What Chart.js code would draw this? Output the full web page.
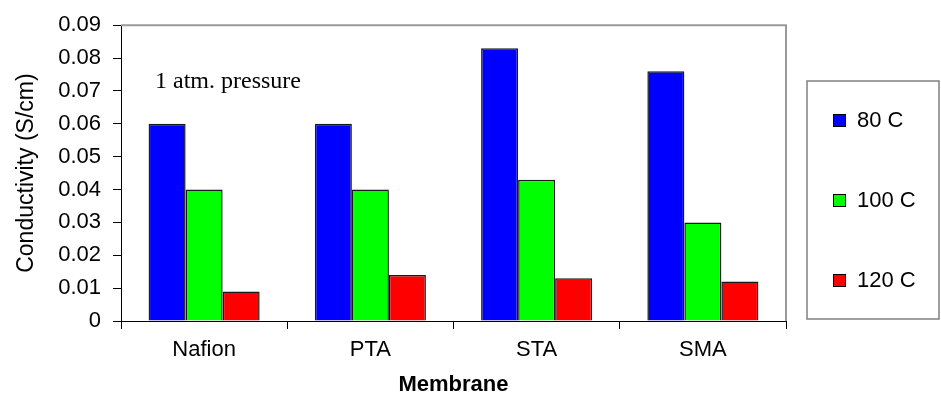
<!DOCTYPE html>
<html>
<head>
<meta charset="utf-8">
<script src="https://cdn.jsdelivr.net/npm/chart.js@4/dist/chart.umd.min.js"></script>
<style>
  html, body { margin: 0; padding: 0; background: #fff; }
  #wrap { width: 941px; height: 407px; }
</style>
</head>
<body>
<div id="wrap"><canvas id="c" width="941" height="407"></canvas></div>
<script>
// Proton conductivity of each membrane at three temperatures
const membranes = ['Nafion', 'PTA', 'STA', 'SMA'];
const temperatures = ['80 C', '100 C', '120 C'];
const cond80C = [0.060, 0.060, 0.083, 0.076];
const cond100C = [0.040, 0.040, 0.043, 0.030];
const cond120C = [0.009, 0.014, 0.013, 0.012];
const yTickValues = [0, 0.01, 0.02, 0.03, 0.04, 0.05, 0.06, 0.07, 0.08, 0.09];
const noteText = '1 atm. pressure';

const barColors = ['#0000FF', '#00FF00', '#FF0000'];
const sans = '"Liberation Sans", Arial, sans-serif';
const serif = '"Liberation Serif", "Times New Roman", serif';

// Grey frame along the top and right of the plot area
const plotFrame = {
  id: 'plotFrame',
  beforeDatasetsDraw(chart) {
    const { ctx, chartArea: a } = chart;
    ctx.save();
    ctx.strokeStyle = '#9a9a9a';
    ctx.lineWidth = 2;
    ctx.beginPath();
    ctx.moveTo(a.left, a.top);
    ctx.lineTo(a.right, a.top);
    ctx.lineTo(a.right, a.bottom);
    ctx.stroke();
    ctx.restore();
  }
};

// Boxed legend to the right of the plot, plus the pressure note
const sideLegend = {
  id: 'sideLegend',
  afterDraw(chart) {
    const { ctx, chartArea: a } = chart;
    const y = chart.scales.y;
    ctx.save();
    // note inside the plot
    ctx.font = '24px ' + serif;
    ctx.fillStyle = '#000';
    ctx.textAlign = 'left';
    ctx.textBaseline = 'middle';
    ctx.fillText(noteText, a.left + 34, y.getPixelForValue(0.0728));

    // legend frame
    const bx = 807, by = 81, bw = 132, bh = 238;
    ctx.strokeStyle = '#808080';
    ctx.lineWidth = 1.5;
    ctx.strokeRect(bx, by, bw, bh);

    chart.data.datasets.forEach((ds, i) => {
      const cy = by + 39 + i * 80;
      ctx.fillStyle = ds.backgroundColor;
      ctx.fillRect(833, cy - 6, 13, 13);
      ctx.strokeStyle = '#000';
      ctx.lineWidth = 1;
      ctx.strokeRect(833.5, cy - 5.5, 12, 12);
      ctx.fillStyle = '#000';
      ctx.font = '22px ' + sans;
      ctx.textBaseline = 'middle';
      ctx.fillText(ds.label, 857, cy + 1);
    });
    ctx.restore();
  }
};

const series = [cond80C, cond100C, cond120C];

new Chart(document.getElementById('c'), {
  type: 'bar',
  data: {
    labels: membranes,
    datasets: series.map((vals, i) => ({
      label: temperatures[i],
      data: vals,
      backgroundColor: barColors[i],
      borderColor: '#1a1a1a',
      borderWidth: 1.5,
      categoryPercentage: 0.668,
      barPercentage: 1.0
    }))
  },
  options: {
    responsive: false,
    animation: false,
    devicePixelRatio: 1,
    layout: { padding: { top: 19, right: 155, left: 0, bottom: 0 } },
    plugins: {
      legend: { display: false },
      tooltip: { enabled: false }
    },
    scales: {
      x: {
        grid: {
          display: true,
          drawOnChartArea: false,
          drawTicks: true,
          tickLength: 8,
          color: '#000',
          offset: true
        },
        border: { display: true, color: '#000', width: 1 },
        ticks: {
          color: '#000',
          font: { family: sans, size: 22 },
          padding: 8,
          maxRotation: 0
        },
        title: {
          display: true,
          text: 'Membrane',
          color: '#000',
          font: { family: sans, size: 22, weight: 'bold' },
          padding: { top: 0, bottom: 9 }
        },
        afterFit(scale) { scale.height = 86; }
      },
      y: {
        min: 0,
        max: 0.09,
        afterBuildTicks(scale) {
          scale.ticks = yTickValues.map(v => ({ value: v }));
        },
        grid: {
          display: true,
          drawOnChartArea: false,
          drawTicks: true,
          tickLength: 8,
          color: '#000'
        },
        border: { display: true, color: '#000', width: 1 },
        ticks: {
          color: '#000',
          font: { family: sans, size: 22 },
          padding: 12,
          callback: v => (v === 0 ? '0' : Number(v).toFixed(2))
        },
        title: {
          display: true,
          text: 'Conductivity (S/cm)',
          color: '#000',
          font: { family: sans, size: 23 },
          padding: { top: 13, bottom: 0 }
        },
        afterFit(scale) { scale.width = 121; }
      }
    }
  },
  plugins: [plotFrame, sideLegend]
});
</script>
</body>
</html>
